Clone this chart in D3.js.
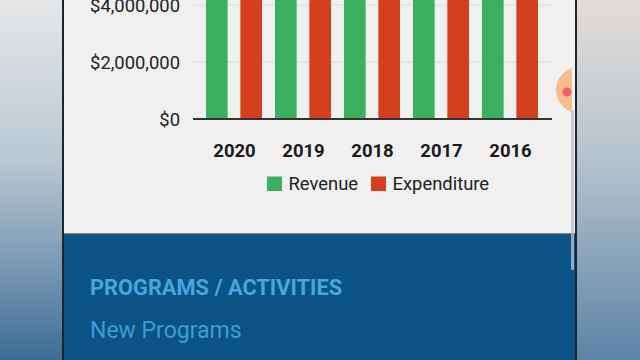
<!DOCTYPE html>
<html><head><meta charset="utf-8">
<script src="https://cdn.jsdelivr.net/npm/d3@7/dist/d3.min.js"></script>
<style>html,body{margin:0;padding:0;overflow:hidden;background:#fff}svg{display:block}</style>
</head><body>
<svg id="c" width="640" height="360"></svg>
<script>
const years = ["2020","2019","2018","2017","2016"];
const revenue = [5200000, 5100000, 5000000, 4900000, 4800000];
const expenditure = [5000000, 4950000, 4900000, 4850000, 4700000];
const yTicks = [0, 2000000, 4000000];
const seriesNames = ["Revenue","Expenditure"];
const seriesColors = ["#3bb160","#d4401d"];

const svg = d3.select("#c");
const defs = svg.append("defs");
const gl = defs.append("linearGradient").attr("id","gl").attr("x1",0).attr("y1",0).attr("x2",0).attr("y2",1);
gl.append("stop").attr("offset","0").attr("stop-color","#e6e7e8");
gl.append("stop").attr("offset","0.45").attr("stop-color","#b9c7d3");
gl.append("stop").attr("offset","1").attr("stop-color","#3e6d96");
const gr = defs.append("linearGradient").attr("id","gr").attr("x1",0).attr("y1",0).attr("x2",0).attr("y2",1);
gr.append("stop").attr("offset","0").attr("stop-color","#e3ddd8");
gr.append("stop").attr("offset","0.45").attr("stop-color","#b5c2cd");
gr.append("stop").attr("offset","1").attr("stop-color","#5b84a7");
defs.append("clipPath").attr("id","clip").append("rect").attr("x",64).attr("y",0).attr("width",508).attr("height",360);

// outside backgrounds
svg.append("rect").attr("x",0).attr("y",0).attr("width",63).attr("height",360).attr("fill","url(#gl)");
svg.append("rect").attr("x",577).attr("y",0).attr("width",63).attr("height",360).attr("fill","url(#gr)");
// phone frame edges
svg.append("rect").attr("x",62).attr("y",0).attr("width",2).attr("height",360).attr("fill","#1c2630");
svg.append("rect").attr("x",575).attr("y",0).attr("width",2).attr("height",360).attr("fill","#1c2630");
// panel
svg.append("rect").attr("x",64).attr("y",0).attr("width",511).attr("height",234).attr("fill","#f0f0f0");
svg.append("rect").attr("x",64).attr("y",234).attr("width",511).attr("height",126).attr("fill","#0b5387");
svg.append("rect").attr("x",64).attr("y",233).attr("width",511).attr("height",1.5).attr("fill","#4a5a66").attr("opacity",0.7);

const x0 = d3.scaleBand().domain(years).range([200, 545]).paddingInner(0).paddingOuter(0);
const x1 = d3.scaleBand().domain(seriesNames).range([6, x0.bandwidth()-7]).paddingInner(0.37);
const y = d3.scaleLinear().domain([0, 4000000]).range([119, 5]);
const color = d3.scaleOrdinal().domain(seriesNames).range(seriesColors);

const chart = svg.append("g").attr("clip-path","url(#clip)");
// gridlines
chart.append("g").selectAll("line").data(yTicks.slice(1)).join("line")
  .attr("x1",193).attr("x2",552).attr("y1",d=>y(d)).attr("y2",d=>y(d))
  .attr("stroke","#d9d9d9").attr("stroke-width",1.2);

const rows = years.map((yr,i)=>({year:yr, vals:[{k:"Revenue",v:revenue[i]},{k:"Expenditure",v:expenditure[i]}]}));
chart.append("g").selectAll("g").data(rows).join("g")
  .attr("transform",d=>`translate(${x0(d.year)},0)`)
  .selectAll("rect").data(d=>d.vals).join("rect")
  .attr("x",d=>x1(d.k)).attr("width",x1.bandwidth())
  .attr("y",d=>y(d.v)).attr("height",d=>y(0)-y(d.v))
  .attr("fill",d=>color(d.k));

// baseline
chart.append("line").attr("x1",193).attr("x2",552).attr("y1",y(0)).attr("y2",y(0))
  .attr("stroke","#333").attr("stroke-width",2);

// y axis labels
const yAxis = d3.axisLeft(y).tickValues(yTicks).tickSize(0).tickPadding(0)
  .tickFormat(d=>"$"+d3.format(",")(d));
const ya = svg.append("g").attr("transform","translate(180,0)").call(yAxis);
ya.select(".domain").remove();
ya.selectAll("text").attr("font-family","Roboto").attr("font-size",18.4).attr("fill","#222").attr("dy","0.35em");

// x axis labels
const xAxis = d3.axisBottom(x0).tickSize(0).tickPadding(0);
const xa = svg.append("g").attr("transform","translate(0,157)").call(xAxis);
xa.select(".domain").remove();
xa.selectAll("text").attr("font-family","Roboto").attr("font-weight","bold").attr("font-size",18.5).attr("fill","#1a1a1a").attr("dy",0);

// legend
const legendX = [267, 371];
const lg = svg.append("g");
seriesNames.forEach((s,i)=>{
  lg.append("rect").attr("x",legendX[i]).attr("y",176.5).attr("width",15).attr("height",14.5).attr("fill",seriesColors[i]);
  lg.append("text").attr("x",legendX[i]+21.5).attr("y",189.5).text(s)
    .attr("font-family","Roboto").attr("font-size",18.4).attr("fill","#222");
});

// lower section text
svg.append("text").attr("x",90).attr("y",295).text("PROGRAMS / ACTIVITIES")
  .attr("font-family","Roboto").attr("font-weight","bold").attr("font-size",21.8).attr("fill","#49a6dc");
svg.append("text").attr("x",90).attr("y",338).text("New Programs")
  .attr("font-family","Roboto").attr("font-size",23).attr("fill","#3d9cd6");

// scrollbar
svg.append("rect").attr("x",571).attr("y",110).attr("width",3).attr("height",160).attr("rx",1.5)
  .attr("fill","#b8c0c8").attr("opacity",0.8);
// touch indicator
const ti = svg.append("g").attr("clip-path","url(#clip)");
ti.append("circle").attr("cx",579).attr("cy",90).attr("r",23).attr("fill","#f6b47c").attr("opacity",0.85);
ti.append("circle").attr("cx",567).attr("cy",92).attr("r",4.5).attr("fill","#ee6070");
</script>
</body></html>
